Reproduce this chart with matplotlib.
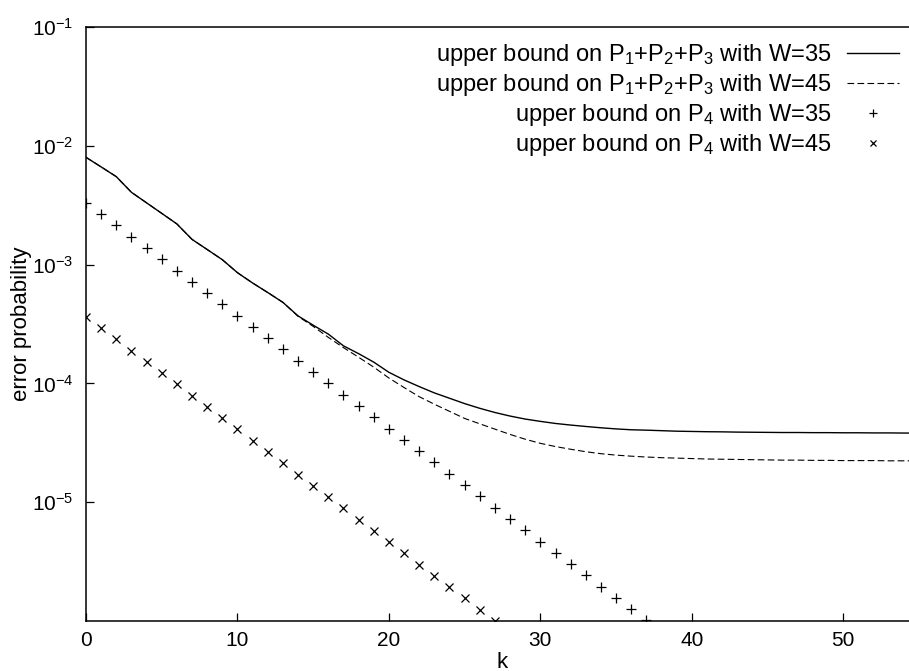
import matplotlib
matplotlib.use("Agg")
import matplotlib.pyplot as plt
import numpy as np

plt.rcParams["font.family"] = ["Liberation Sans", "DejaVu Sans"]
plt.rcParams["mathtext.fontset"] = "custom"
plt.rcParams["mathtext.rm"] = "Liberation Sans"
plt.rcParams["mathtext.it"] = "Liberation Sans:italic"
plt.rcParams["mathtext.bf"] = "Liberation Sans:bold"

# Sum of the first three error terms, per k
k_sum = list(range(0, 56))
sum_w35 = [8.00e-3, 6.64e-3, 5.50e-3, 4.06e-3, 3.31e-3, 2.70e-3, 2.20e-3, 1.63e-3,
           1.34e-3, 1.10e-3, 8.55e-4, 7.00e-4, 5.82e-4, 4.81e-4, 3.70e-4, 3.09e-4,
           2.60e-4, 2.07e-4, 1.78e-4, 1.51e-4, 1.24e-4, 1.07e-4, 9.40e-5, 8.32e-5,
           7.50e-5, 6.76e-5, 6.17e-5, 5.69e-5, 5.31e-5, 5.01e-5, 4.79e-5, 4.60e-5,
           4.46e-5, 4.34e-5, 4.23e-5, 4.14e-5, 4.07e-5, 4.04e-5, 4.00e-5, 3.96e-5,
           3.94e-5, 3.92e-5, 3.91e-5, 3.89e-5, 3.88e-5, 3.87e-5, 3.86e-5, 3.86e-5,
           3.85e-5, 3.85e-5, 3.84e-5, 3.84e-5, 3.83e-5, 3.83e-5, 3.82e-5, 3.82e-5]
sum_w45 = [8.00e-3, 6.64e-3, 5.50e-3, 4.06e-3, 3.31e-3, 2.70e-3, 2.20e-3, 1.63e-3,
           1.34e-3, 1.10e-3, 8.55e-4, 7.00e-4, 5.82e-4, 4.81e-4, 3.67e-4, 3.02e-4,
           2.44e-4, 2.00e-4, 1.66e-4, 1.37e-4, 1.11e-4, 9.23e-5, 7.73e-5, 6.68e-5,
           5.82e-5, 5.07e-5, 4.57e-5, 4.12e-5, 3.72e-5, 3.39e-5, 3.13e-5, 2.94e-5,
           2.79e-5, 2.66e-5, 2.56e-5, 2.49e-5, 2.44e-5, 2.40e-5, 2.37e-5, 2.35e-5,
           2.33e-5, 2.31e-5, 2.30e-5, 2.29e-5, 2.28e-5, 2.27e-5, 2.26e-5, 2.26e-5,
           2.25e-5, 2.25e-5, 2.24e-5, 2.24e-5, 2.24e-5, 2.23e-5, 2.23e-5, 2.23e-5]

# Fourth error term
k_p4_w35 = list(range(0, 38))
p4_w35 = [3.31e-3, 2.66e-3, 2.14e-3, 1.72e-3, 1.38e-3, 1.11e-3, 8.91e-4, 7.16e-4,
          5.75e-4, 4.62e-4, 3.71e-4, 2.98e-4, 2.40e-4, 1.93e-4, 1.55e-4, 1.24e-4,
          9.99e-5, 8.03e-5, 6.45e-5, 5.18e-5, 4.16e-5, 3.34e-5, 2.69e-5, 2.16e-5,
          1.73e-5, 1.39e-5, 1.12e-5, 8.99e-6, 7.22e-6, 5.80e-6, 4.66e-6, 3.75e-6,
          3.01e-6, 2.42e-6, 1.94e-6, 1.56e-6, 1.25e-6, 1.01e-6]
k_p4_w45 = list(range(0, 28))
p4_w45 = [3.64e-4, 2.93e-4, 2.35e-4, 1.89e-4, 1.52e-4, 1.22e-4, 9.82e-5, 7.89e-5,
          6.34e-5, 5.10e-5, 4.10e-5, 3.29e-5, 2.65e-5, 2.13e-5, 1.71e-5, 1.37e-5,
          1.10e-5, 8.88e-6, 7.14e-6, 5.74e-6, 4.61e-6, 3.71e-6, 2.98e-6, 2.40e-6,
          1.93e-6, 1.55e-6, 1.24e-6, 1.00e-6]

labels = [
    r"upper bound on $\mathregular{P_1{+}P_2{+}P_3}$ with W=35",
    r"upper bound on $\mathregular{P_1{+}P_2{+}P_3}$ with W=45",
    r"upper bound on $\mathregular{P_4}$ with W=35",
    r"upper bound on $\mathregular{P_4}$ with W=45",
]
x_ticks = [0, 10, 20, 30, 40, 50]
y_ticks = [1e-5, 1e-4, 1e-3, 1e-2, 1e-1]
y_ticklabels = [r"$\mathregular{10^{-5}}$", r"$\mathregular{10^{-4}}$",
                r"$\mathregular{10^{-3}}$", r"$\mathregular{10^{-2}}$",
                r"$\mathregular{10^{-1}}$"]

W, H = 909, 671
fig = plt.figure(figsize=(W / 100, H / 100), dpi=100)
ax = fig.add_axes([86 / W, 1 - 621 / H, 833 / W, 594 / H])

ax.plot(k_sum, sum_w35, color="black", lw=1.0, label=labels[0])
ax.plot(k_sum, sum_w45, color="black", lw=0.8, dashes=(6, 3), label=labels[1])
ax.plot(k_p4_w35, p4_w35, ls="none", marker="+", ms=6.5, mew=0.9,
        color="black", label=labels[2])
ax.plot(k_p4_w45, p4_w45, ls="none", marker="x", ms=5.5, mew=0.9,
        color="black", label=labels[3])

ax.set_yscale("log")
ax.set_xlim(0, 55)
ax.set_ylim(1e-6, 1e-1)
ax.set_xticks(x_ticks)
ax.set_yticks(y_ticks)
ax.set_yticklabels(y_ticklabels)
ax.yaxis.set_minor_locator(matplotlib.ticker.NullLocator())
ax.tick_params(direction="in", length=6, width=0.9, labelsize=15, colors="black")
ax.tick_params(axis="x", pad=7)
ax.tick_params(axis="y", pad=9)
for s in ax.spines.values():
    s.set_linewidth(1.1)

ax.set_xlabel("k", fontsize=16, labelpad=1.5)
ax.set_ylabel("error probability", fontsize=16, labelpad=0)

leg = ax.legend(loc="upper right", bbox_to_anchor=(899 / W, 1 - 42 / H),
                bbox_transform=fig.transFigure, frameon=False, markerfirst=False,
                fontsize=17, handlelength=2.2, handletextpad=0.65,
                labelspacing=0.17, borderpad=0, borderaxespad=0, markerscale=0.8)

fig.savefig("out.png", dpi=100)
